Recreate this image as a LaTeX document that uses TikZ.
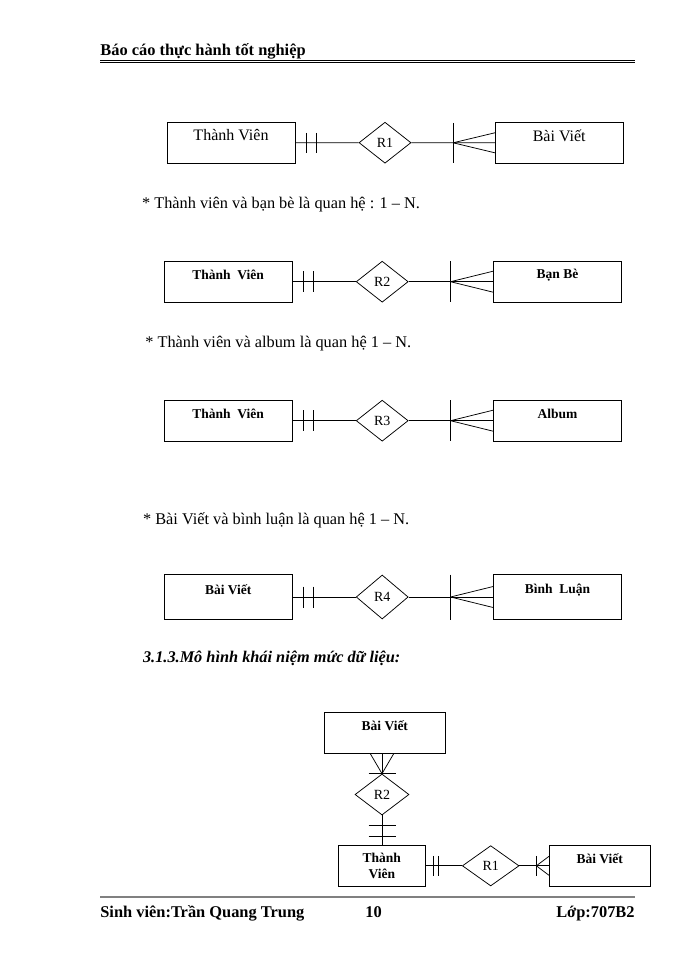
\documentclass[tikz,border=0pt]{standalone}
\usepackage{fontspec}
\setmainfont{Liberation Serif}
\usetikzlibrary{shapes.geometric,calc}

\tikzset{
  entity/.style={draw, rectangle, minimum width=128pt, minimum height=41pt, inner sep=0pt},
  rel/.style={draw, diamond, minimum width=52pt, minimum height=41pt, inner sep=0pt,
    font=\fontsize{14}{16}\selectfont},
  etext/.style={inner sep=0pt, font=\bfseries\fontsize{13.5}{16}\selectfont},
  body/.style={inner sep=0pt, anchor=base west, font=\fontsize{16.3}{19}\selectfont},
  page/.style={inner sep=0pt, font=\bfseries\fontsize{16.4}{19}\selectfont}
}

\begin{document}
\begin{tikzpicture}[x=1pt, y=-1pt, line width=0.75pt]
    \fill[white] (0,0) rectangle (700,960);
    \useasboundingbox (0,0) rectangle (700,960);

    % header and footer
    \node[page, anchor=base west] (head) at (100,56) {Báo cáo thực hành tốt nghiệp};
    \draw[line width=1.5pt] (100,60.5) -- (635,60.5);
    \draw[line width=0.6pt] (100,62.8) -- (635,62.8);
    \draw[gray, line width=2pt] (100,897) -- (635,897);
    \node[page, anchor=base west] (foot1) at (100,917) {Sinh viên:Trần Quang Trung};
    \node[page, anchor=base west] (foot2) at (365,917) {10};
    \node[page, anchor=base east] (foot3) at (635,917) {Lớp:707B2};

    % Thanh Vien -- R1 -- Bai Viet
    \node[entity] (tv1) at (231,142.8) {};
    \node[inner sep=0pt, font=\fontsize{16}{18}\selectfont] (tv1t) at ([yshift=-13.5pt]tv1.north) {Thành Viên};
    \node[rel] (r1) at (385,142.7) {R1};
    \node[entity] (bv1) at (559.2,142.8) {};
    \node[inner sep=0pt, font=\fontsize{16}{18}\selectfont] (bv1t) at ([yshift=-13.5pt]bv1.north) {Bài Viết};
    \draw (tv1) -- (r1) -- (bv1);
    \draw ($(tv1.east)+(10.7,-10)$) -- ++(0,20);
    \draw ($(tv1.east)+(20.7,-10)$) -- ++(0,20);
    \draw ($(bv1.west)+(-41.7,-20)$) -- ++(0,40);
    \coordinate (c1) at ($(bv1.west)+(-41.7,0)$);
    \draw (c1) -- ($(bv1.west)+(0,-10)$) (c1) -- ($(bv1.west)+(0,10)$);

    \node[body] (t1) at (141.7,208) {* Thành viên và bạn bè là quan hệ : 1 – N.};

    % Thanh Vien -- R2 -- Ban Be
    \node[entity] (tv2) at (228.2,281.7) {};
    \node[etext] (tv2t) at ([yshift=-14pt]tv2.north) {Thành \ Viên};
    \node[rel] (r2) at (382.2,281.7) {R2};
    \node[entity] (bb2) at (557.5,281.7) {};
    \node[etext] (bb2t) at ([yshift=-14pt]bb2.north) {Bạn Bè};
    \draw (tv2) -- (r2) -- (bb2);
    \draw ($(tv2.east)+(10.4,-10.5)$) -- ++(0,21);
    \draw ($(tv2.east)+(21,-10.5)$) -- ++(0,21);
    \draw ($(bb2.west)+(-42.6,-20.5)$) -- ++(0,41);
    \coordinate (c2) at ($(bb2.west)+(-42.6,0)$);
    \draw (c2) -- ($(bb2.west)+(0,-10.5)$) (c2) -- ($(bb2.west)+(0,10.5)$);

    \node[body] (t2) at (145,347) {* Thành viên và album là quan hệ 1 – N.};

    % Thanh Vien -- R3 -- Album
    \node[entity] (tv3) at (228.2,420.7) {};
    \node[etext] (tv3t) at ([yshift=-14pt]tv3.north) {Thành \ Viên};
    \node[rel] (r3) at (382.2,420.7) {R3};
    \node[entity] (al3) at (557.5,420.7) {};
    \node[etext] (al3t) at ([yshift=-14pt]al3.north) {Album};
    \draw (tv3) -- (r3) -- (al3);
    \draw ($(tv3.east)+(10.4,-10.5)$) -- ++(0,21);
    \draw ($(tv3.east)+(21,-10.5)$) -- ++(0,21);
    \draw ($(al3.west)+(-42.6,-20.5)$) -- ++(0,41);
    \coordinate (c3) at ($(al3.west)+(-42.6,0)$);
    \draw (c3) -- ($(al3.west)+(0,-10.5)$) (c3) -- ($(al3.west)+(0,10.5)$);

    \node[body] (t3) at (142.7,524) {* Bài Viết và bình luận là quan hệ 1 – N.};

    % Bai Viet -- R4 -- Binh Luan
    \node[entity, minimum height=45pt] (bv4) at (228.2,597) {};
    \node[etext] (bv4t) at ([yshift=-16pt]bv4.north) {Bài Viết};
    \node[rel, minimum height=44pt] (r4) at (382.2,597) {R4};
    \node[entity, minimum height=45pt] (bl4) at (557.5,597) {};
    \node[etext] (bl4t) at ([yshift=-16pt]bl4.north) {Bình \ Luận};
    \draw (bv4) -- (r4) -- (bl4);
    \draw ($(bv4.east)+(10.4,-10.5)$) -- ++(0,21);
    \draw ($(bv4.east)+(21,-10.5)$) -- ++(0,21);
    \draw ($(bl4.west)+(-42.6,-22.5)$) -- ++(0,45);
    \coordinate (c4) at ($(bl4.west)+(-42.6,0)$);
    \draw (c4) -- ($(bl4.west)+(0,-10.5)$) (c4) -- ($(bl4.west)+(0,10.5)$);

    \node[body, font=\bfseries\itshape\fontsize{16.3}{19}\selectfont] (h313) at (142.7,662) {3.1.3.Mô hình khái niệm mức dữ liệu:};

    % conceptual model
    \node[entity, minimum width=121.7pt, minimum height=40.6pt] (bv5) at (384.8,733) {};
    \node[etext] (bv5t) at ([yshift=-13pt]bv5.north) {Bài Viết};
    \node[rel, minimum width=54pt] (r5) at (382,794.5) {R2};
    \draw (r5.north) -- (r5.north |- bv5.south);
    \draw (r5.north) -- ($(r5.north |- bv5.south)+(-11.7,0)$)
          (r5.north) -- ($(r5.north |- bv5.south)+(11.7,0)$);
    \draw ($(r5.north)+(-13.5,0)$) -- ++(27,0);
    \node[entity, minimum width=87.7pt, minimum height=40.3pt, align=center,
          font=\bfseries\fontsize{13.5}{16}\selectfont] (tv5) at (381.8,865.8) {Thành\\Viên};
    \draw (r5.south) -- (r5.south |- tv5.north);
    \draw ($(r5.south)+(-13.5,10)$) -- ++(27,0);
    \draw ($(r5.south)+(-13.5,20.7)$) -- ++(27,0);
    \node[rel, minimum width=56.7pt, minimum height=40.3pt] (r6) at (490.7,865.8) {R1};
    \node[entity, minimum width=100.7pt, minimum height=40.3pt] (bv6) at (599.7,865.8) {};
    \node[etext] (bv6t) at ([yshift=-13pt]bv6.north) {Bài Viết};
    \draw (tv5) -- (r6) -- (bv6);
    \draw ($(tv5.east)+(7,-10)$) -- ++(0,20);
    \draw ($(tv5.east)+(12.6,-10)$) -- ++(0,20);
    \draw ($(bv6.west)+(-12.6,-10)$) -- ++(0,20);
    \coordinate (c6) at ($(bv6.west)+(-12.6,0)$);
    \draw (c6) -- ($(bv6.west)+(0,-9.5)$) (c6) -- ($(bv6.west)+(0,9.5)$);
\end{tikzpicture}
\end{document}
